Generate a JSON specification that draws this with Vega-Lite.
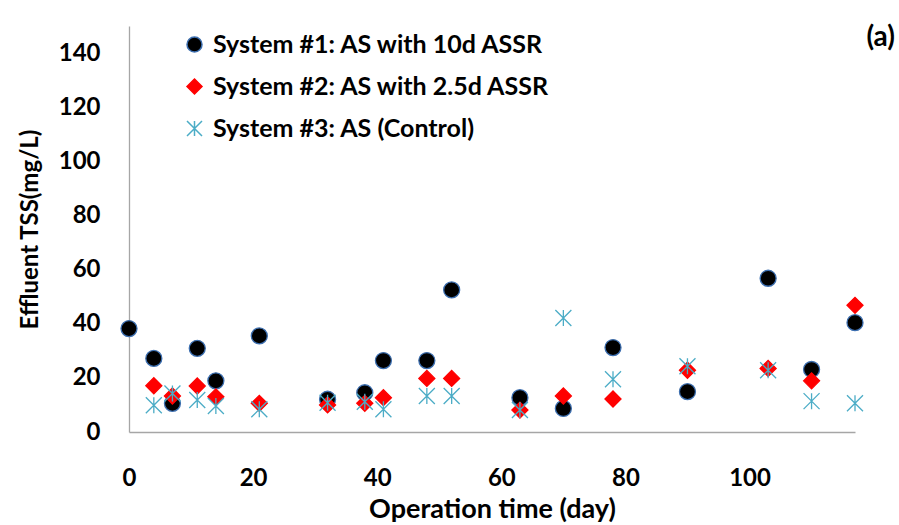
{
  "$schema": "https://vega.github.io/schema/vega-lite/v6.json",
  "autosize": {"type": "none"},
  "padding": {"left": 129, "top": 26, "right": 44, "bottom": 93},
  "width": 726,
  "height": 406,
  "background": "white",
  "title": {
    "text": "(a)",
    "anchor": "end",
    "frame": "group",
    "orient": "top",
    "baseline": "middle",
    "offset": -40,
    "dx": 40,
    "font": "Lato",
    "fontSize": 28,
    "fontWeight": "bold",
    "color": "#000000"
  },
  "data": {
    "values": [
      {"day": 0, "tss": 38.2, "system": "System #1: AS with 10d ASSR"},
      {"day": 4, "tss": 27.2, "system": "System #1: AS with 10d ASSR"},
      {"day": 7, "tss": 10.6, "system": "System #1: AS with 10d ASSR"},
      {"day": 11, "tss": 30.9, "system": "System #1: AS with 10d ASSR"},
      {"day": 14, "tss": 18.9, "system": "System #1: AS with 10d ASSR"},
      {"day": 21, "tss": 35.5, "system": "System #1: AS with 10d ASSR"},
      {"day": 32, "tss": 12.1, "system": "System #1: AS with 10d ASSR"},
      {"day": 38, "tss": 14.5, "system": "System #1: AS with 10d ASSR"},
      {"day": 41, "tss": 26.4, "system": "System #1: AS with 10d ASSR"},
      {"day": 48, "tss": 26.4, "system": "System #1: AS with 10d ASSR"},
      {"day": 52, "tss": 52.5, "system": "System #1: AS with 10d ASSR"},
      {"day": 63, "tss": 12.7, "system": "System #1: AS with 10d ASSR"},
      {"day": 70, "tss": 8.7, "system": "System #1: AS with 10d ASSR"},
      {"day": 78, "tss": 31.2, "system": "System #1: AS with 10d ASSR"},
      {"day": 90, "tss": 14.9, "system": "System #1: AS with 10d ASSR"},
      {"day": 103, "tss": 56.8, "system": "System #1: AS with 10d ASSR"},
      {"day": 110, "tss": 23.1, "system": "System #1: AS with 10d ASSR"},
      {"day": 117, "tss": 40.4, "system": "System #1: AS with 10d ASSR"},
      {"day": 4, "tss": 17.1, "system": "System #2: AS with 2.5d ASSR"},
      {"day": 7, "tss": 13.3, "system": "System #2: AS with 2.5d ASSR"},
      {"day": 11, "tss": 17.0, "system": "System #2: AS with 2.5d ASSR"},
      {"day": 14, "tss": 13.0, "system": "System #2: AS with 2.5d ASSR"},
      {"day": 21, "tss": 10.6, "system": "System #2: AS with 2.5d ASSR"},
      {"day": 32, "tss": 10.0, "system": "System #2: AS with 2.5d ASSR"},
      {"day": 38, "tss": 10.6, "system": "System #2: AS with 2.5d ASSR"},
      {"day": 41, "tss": 12.7, "system": "System #2: AS with 2.5d ASSR"},
      {"day": 48, "tss": 19.8, "system": "System #2: AS with 2.5d ASSR"},
      {"day": 52, "tss": 19.8, "system": "System #2: AS with 2.5d ASSR"},
      {"day": 63, "tss": 8.1, "system": "System #2: AS with 2.5d ASSR"},
      {"day": 70, "tss": 13.3, "system": "System #2: AS with 2.5d ASSR"},
      {"day": 78, "tss": 12.2, "system": "System #2: AS with 2.5d ASSR"},
      {"day": 90, "tss": 22.8, "system": "System #2: AS with 2.5d ASSR"},
      {"day": 103, "tss": 23.5, "system": "System #2: AS with 2.5d ASSR"},
      {"day": 110, "tss": 18.9, "system": "System #2: AS with 2.5d ASSR"},
      {"day": 117, "tss": 46.8, "system": "System #2: AS with 2.5d ASSR"},
      {"day": 4, "tss": 9.9, "system": "System #3: AS (Control)"},
      {"day": 7, "tss": 14.2, "system": "System #3: AS (Control)"},
      {"day": 11, "tss": 11.8, "system": "System #3: AS (Control)"},
      {"day": 14, "tss": 9.6, "system": "System #3: AS (Control)"},
      {"day": 21, "tss": 8.4, "system": "System #3: AS (Control)"},
      {"day": 32, "tss": 10.8, "system": "System #3: AS (Control)"},
      {"day": 38, "tss": 11.2, "system": "System #3: AS (Control)"},
      {"day": 41, "tss": 8.4, "system": "System #3: AS (Control)"},
      {"day": 48, "tss": 13.3, "system": "System #3: AS (Control)"},
      {"day": 52, "tss": 13.3, "system": "System #3: AS (Control)"},
      {"day": 63, "tss": 8.1, "system": "System #3: AS (Control)"},
      {"day": 70, "tss": 42.1, "system": "System #3: AS (Control)"},
      {"day": 78, "tss": 19.5, "system": "System #3: AS (Control)"},
      {"day": 90, "tss": 24.3, "system": "System #3: AS (Control)"},
      {"day": 103, "tss": 22.8, "system": "System #3: AS (Control)"},
      {"day": 110, "tss": 11.4, "system": "System #3: AS (Control)"},
      {"day": 117, "tss": 10.6, "system": "System #3: AS (Control)"}
    ]
  },
  "mark": {"type": "point", "filled": true, "size": 256, "opacity": 1, "strokeWidth": 1.3},
  "encoding": {
    "x": {
      "field": "day",
      "type": "quantitative",
      "scale": {"domain": [0, 117], "nice": false, "zero": true},
      "axis": {
        "title": "Operation time (day)",
        "values": [0, 20, 40, 60, 80, 100],
        "labelFlush": false,
        "labelPadding": 34,
        "titlePadding": 6,
        "titleFontSize": 27
      }
    },
    "y": {
      "field": "tss",
      "type": "quantitative",
      "scale": {"domain": [0, 150], "nice": false},
      "axis": {
        "title": "Effluent TSS(mg/L)",
        "values": [0, 20, 40, 60, 80, 100, 120, 140],
        "labelFlush": false,
        "labelPadding": 29,
        "titlePadding": 16
      }
    },
    "fill": {
      "field": "system",
      "type": "nominal",
      "scale": {
        "domain": ["System #1: AS with 10d ASSR", "System #2: AS with 2.5d ASSR", "System #3: AS (Control)"],
        "range": ["#000000", "#FF0000", "#4BACC6"]
      },
      "legend": {
        "title": null,
        "orient": "none",
        "legendX": 53,
        "legendY": 6,
        "padding": 0,
        "rowPadding": 16,
        "labelOffset": 6,
        "symbolSize": 225,
        "labelFont": "Lato",
        "labelFontSize": 25,
        "labelFontWeight": "bold",
        "labelColor": "#000000",
        "labelLimit": 0
      }
    },
    "stroke": {
      "field": "system",
      "type": "nominal",
      "scale": {
        "domain": ["System #1: AS with 10d ASSR", "System #2: AS with 2.5d ASSR", "System #3: AS (Control)"],
        "range": ["#3D6FB0", "#FF0000", "#4BACC6"]
      }
    },
    "shape": {
      "field": "system",
      "type": "nominal",
      "scale": {
        "domain": ["System #1: AS with 10d ASSR", "System #2: AS with 2.5d ASSR", "System #3: AS (Control)"],
        "range": ["circle", "diamond", "M-1,-1L1,1M-1,1L1,-1M0,-1L0,1"]
      }
    }
  },
  "config": {
    "view": {"stroke": null},
    "axis": {
      "grid": false,
      "ticks": false,
      "domainColor": "#A6A6A6",
      "domainWidth": 1.3,
      "labelFont": "Lato",
      "labelFontSize": 24,
      "labelFontWeight": "bold",
      "labelColor": "#000000",
      "titleFont": "Lato",
      "titleFontSize": 24,
      "titleFontWeight": "bold",
      "titleColor": "#000000"
    }
  }
}
